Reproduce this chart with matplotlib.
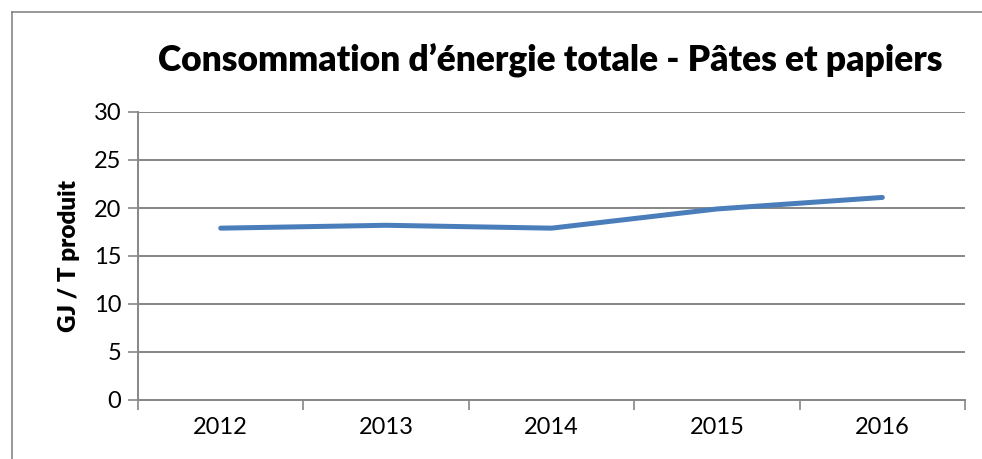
import matplotlib
matplotlib.use("Agg")
import matplotlib.pyplot as plt
from matplotlib.lines import Line2D

years = ["2012", "2013", "2014", "2015", "2016"]
values = [17.9, 18.2, 17.9, 19.9, 21.1]
yticks = [0, 5, 10, 15, 20, 25, 30]

FONT = "Lato"
GRID = "#868686"

fig = plt.figure(figsize=(9.82, 4.59), dpi=100)
ax = fig.add_axes([138/982, 1 - 400/459, (965-138)/982, (400-112)/459])

xs = list(range(len(years)))
ax.plot(xs, values, color="#4A7EBB", lw=3.6, solid_capstyle="round", solid_joinstyle="round", zorder=3)

ax.set_xlim(-0.5, len(years) - 0.5)
ax.set_ylim(0, 30)
ax.set_yticks(yticks)
ax.set_yticklabels([str(v) for v in yticks], fontsize=17, family=FONT)
ax.set_xticks(xs)
ax.set_xticklabels(years, fontsize=17, family=FONT)
ax.tick_params(axis="x", length=0, pad=12)
ax.tick_params(axis="y", length=7, width=1.2, color=GRID, pad=5)
ax.set_xticks([i - 0.5 for i in range(len(years) + 1)], minor=True)
ax.tick_params(axis="x", which="minor", length=7, width=1.2, color=GRID)

for v in yticks[1:]:
    ax.axhline(v, color=GRID, lw=1.4, zorder=1)
for s in ["top", "right"]:
    ax.spines[s].set_visible(False)
for s in ["left", "bottom"]:
    ax.spines[s].set_color(GRID)
    ax.spines[s].set_linewidth(1.4)

ax.set_ylabel("GJ / T produit", fontsize=17.5, family=FONT, fontweight="heavy", labelpad=10)

fig.text(550/982, 1 - 60/459, "Consommation d\u2019\u00e9nergie totale - P\u00e2tes et papiers",
         ha="center", va="center", fontsize=25.5, fontweight="heavy", family=FONT)

fig.add_artist(Line2D([12/982, 12/982], [0, 1 - 12/459], transform=fig.transFigure, color=GRID, lw=1.2))
fig.add_artist(Line2D([12/982, 1], [1 - 12/459, 1 - 12/459], transform=fig.transFigure, color=GRID, lw=1.2))

fig.savefig("out.png", dpi=100)
